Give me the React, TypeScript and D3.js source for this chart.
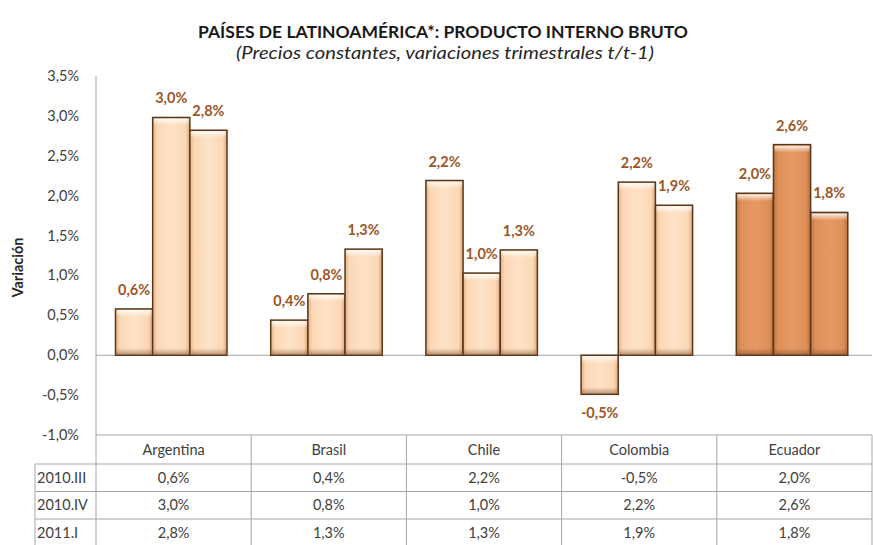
import React from "react";
import * as d3 from "d3";

const categories = ["Argentina", "Brasil", "Chile", "Colombia", "Ecuador"];
const seriesNames = ["2010.III", "2010.IV", "2011.I"];
const s2010III = [0.58, 0.44, 2.19, -0.49, 2.03];
const s2010IV = [2.98, 0.77, 1.03, 2.17, 2.64];
const s2011I = [2.82, 1.33, 1.32, 1.88, 1.79];
const seriesValues = [s2010III, s2010IV, s2011I];
const yTicks = [-1.0, -0.5, 0.0, 0.5, 1.0, 1.5, 2.0, 2.5, 3.0, 3.5];
const highlighted = ["Ecuador"];

const W = 873;
const H = 545;
const left = 96;
const right = 872;
const top = 76;
const bottom = 435;

const loc = d3.formatLocale({ decimal: ",", thousands: ".", grouping: [3], currency: ["", ""], minus: "-" });
const fmt = (v: number) => loc.format(".1f")(v) + "%";

const FONT = "Lato, 'Open Sans', sans-serif";

export default function App() {
  const y = d3.scaleLinear().domain([-1, 3.5]).range([bottom, top]);
  const x = d3.scaleBand<string>().domain(categories).range([left, right]).padding(0);
  const bw = x.bandwidth();
  const xs = d3.scaleBand<string>().domain(seriesNames).range([19.5, 131]).padding(0);
  const barW = xs.bandwidth();

  const tableTop = bottom;
  const headerBottom = 464;
  const rowH = 27.5;
  const tableBottom = headerBottom + rowH * seriesNames.length;

  return (
    <div style={{ position: "absolute", left: 0, top: 0 }}>
      <svg width={W} height={H} style={{ display: "block", background: "#fff" }}>
        <defs>
          <linearGradient id="gLight" x1="0" x2="1" y1="0" y2="0">
            <stop offset="0" stopColor="#E2B18A" />
            <stop offset="0.12" stopColor="#FBD8B6" />
            <stop offset="0.5" stopColor="#FEE2C6" />
            <stop offset="0.88" stopColor="#FBD8B6" />
            <stop offset="1" stopColor="#DCA77E" />
          </linearGradient>
          <linearGradient id="gDark" x1="0" x2="1" y1="0" y2="0">
            <stop offset="0" stopColor="#BE7442" />
            <stop offset="0.12" stopColor="#DE8F58" />
            <stop offset="0.5" stopColor="#E59A64" />
            <stop offset="0.88" stopColor="#DE8F58" />
            <stop offset="1" stopColor="#B86E3C" />
          </linearGradient>
          <linearGradient id="gTop" x1="0" x2="0" y1="0" y2="1">
            <stop offset="0" stopColor="#ffffff" stopOpacity="0.85" />
            <stop offset="1" stopColor="#ffffff" stopOpacity="0" />
          </linearGradient>
          <linearGradient id="gBot" x1="0" x2="0" y1="0" y2="1">
            <stop offset="0" stopColor="#6a3c18" stopOpacity="0" />
            <stop offset="1" stopColor="#6a3c18" stopOpacity="0.45" />
          </linearGradient>
        </defs>

        {/* Title */}
        <text x={443} y={38} textAnchor="middle" fontFamily={FONT} fontWeight="bold" fontSize={17.5}
          fill="#1a1a1a" textLength={490} lengthAdjust="spacingAndGlyphs">
          PAÍSES DE LATINOAMÉRICA*: PRODUCTO INTERNO BRUTO
        </text>
        <text x={445} y={59} textAnchor="middle" fontFamily={FONT} fontStyle="italic" fontSize={17}
          fill="#262626" textLength={418} lengthAdjust="spacingAndGlyphs">
          (Precios constantes, variaciones  trimestrales t/t-1)
        </text>

        {/* Y axis label */}
        <text transform={`translate(23,${(top + bottom) / 2 + 12}) rotate(-90)`} textAnchor="middle"
          fontFamily={FONT} fontWeight="bold" fontSize={14.5} fill="#262626">
          Variación
        </text>

        {/* Y tick labels */}
        {yTicks.map((t) => (
          <text key={t} x={79} y={y(t) + 5} textAnchor="end" fontFamily={FONT} fontSize={14.5} fill="#404040">
            {fmt(t)}
          </text>
        ))}

        {/* Axis line and zero line */}
        <line x1={left} x2={left} y1={top} y2={H} stroke="#A6A6A6" strokeWidth={1} />
        <line x1={left} x2={right} y1={y(0)} y2={y(0)} stroke="#A6A6A6" strokeWidth={1} />

        {/* Bars */}
        {categories.map((c, ci) =>
          seriesNames.map((s, si) => {
            const v = seriesValues[si][ci];
            const bx = (x(c) as number) + (xs(s) as number);
            const y0 = y(Math.max(0, v));
            const y1 = y(Math.min(0, v));
            const h = y1 - y0;
            const dark = highlighted.includes(c);
            const hi = Math.min(7, h / 2);
            return (
              <g key={c + s}>
                <rect x={bx} y={y0} width={barW} height={h} fill={dark ? "url(#gDark)" : "url(#gLight)"} />
                <rect x={bx + 1} y={y0 + 1} width={barW - 2} height={hi} fill="url(#gTop)" />
                <rect x={bx + 1} y={y1 - hi} width={barW - 2} height={hi - 0.5} fill="url(#gBot)" />
                <rect x={bx} y={y0} width={barW} height={h} fill="none" stroke="#5A3719" strokeWidth={1.5} />
                <text x={bx + barW / 2} y={v >= 0 ? y0 - 14 : y1 + 24} textAnchor="middle"
                  fontFamily={FONT} fontWeight="bold" fontSize={14.5} fill="#9C5628">
                  {fmt(v)}
                </text>
              </g>
            );
          })
        )}

        {/* Data table */}
        <g stroke="#A6A6A6" strokeWidth={1} fill="none">
          <line x1={left} x2={right} y1={tableTop} y2={tableTop} />
          <line x1={35} x2={right} y1={headerBottom} y2={headerBottom} />
          {seriesNames.map((s, i) => (
            <line key={s} x1={35} x2={right} y1={headerBottom + rowH * (i + 1)} y2={headerBottom + rowH * (i + 1)} />
          ))}
          <line x1={35} x2={35} y1={headerBottom} y2={tableBottom} />
          {categories.map((c) => (
            <line key={c} x1={(x(c) as number) + bw} x2={(x(c) as number) + bw} y1={tableTop} y2={tableBottom} />
          ))}
        </g>
        {categories.map((c) => (
          <text key={c} x={(x(c) as number) + bw / 2} y={(tableTop + headerBottom) / 2 + 5} textAnchor="middle"
            fontFamily={FONT} fontSize={14.5} fill="#404040">
            {c}
          </text>
        ))}
        {seriesNames.map((s, si) => (
          <g key={s}>
            <text x={37} y={headerBottom + rowH * si + rowH / 2 + 5} fontFamily={FONT} fontSize={14.5} fill="#404040">
              {s}
            </text>
            {categories.map((c, ci) => (
              <text key={c} x={(x(c) as number) + bw / 2} y={headerBottom + rowH * si + rowH / 2 + 5}
                textAnchor="middle" fontFamily={FONT} fontSize={14.5} fill="#404040">
                {fmt(seriesValues[si][ci])}
              </text>
            ))}
          </g>
        ))}
      </svg>
    </div>
  );
}
